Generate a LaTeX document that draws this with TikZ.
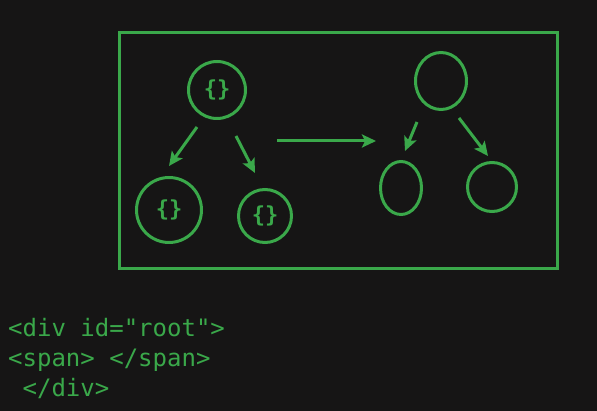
\documentclass[tikz,border=0pt]{standalone}
\usepackage{fontspec}
\setmonofont{DejaVu Sans Mono}
\usetikzlibrary{arrows.meta,shapes.geometric}

\definecolor{bgdark}{RGB}{22,21,21}
\definecolor{codegreen}{RGB}{58,168,74}

\tikzset{
    vnode/.style={circle, draw=codegreen, line width=3pt, inner sep=0pt, text=codegreen, font=\ttfamily\bfseries\fontsize{22}{22}\selectfont},
    rnode/.style={ellipse, draw=codegreen, line width=3pt, inner sep=0pt},
    treearrow/.style={draw=codegreen, line width=3pt, -{Stealth[length=14pt,width=13pt,inset=3pt]}},
    codeline/.style={anchor=base west, inner sep=0pt, text=codegreen, font=\ttfamily\fontsize{24}{24}\selectfont}
}

\begin{document}
\begin{tikzpicture}[x=1pt, y=-1pt]
    % Background
    \fill[bgdark] (0,0) rectangle (597,411);
    \useasboundingbox (0,0) rectangle (597,411);

    % Frame
    \draw[codegreen, line width=3pt] (119,33) rectangle (557,269);

    % Draw nodes for the virtual tree
    \node[vnode, minimum size=57pt] (vroot) at (217,90) {\{\}};
    \node[vnode, minimum size=65pt] (vleft) at (169,210) {\{\}};
    \node[vnode, minimum size=53pt] (vright) at (265,216) {\{\}};

    % Draw nodes for the real tree
    \node[rnode, minimum width=51pt, minimum height=57pt] (rroot) at (441,81) {};
    \node[rnode, minimum width=41pt, minimum height=53pt] (rleft) at (401,188) {};
    \node[rnode, minimum width=49pt, minimum height=49pt] (rright) at (492,187) {};

    % Arrow end points
    \coordinate (va) at (197,127);
    \coordinate (vb) at (169,166);
    \coordinate (vc) at (236,136);
    \coordinate (vd) at (255,173);
    \coordinate (ma) at (277,141);
    \coordinate (mb) at (376,141);
    \coordinate (ra) at (417,122);
    \coordinate (rb) at (405,151);
    \coordinate (rc) at (459,118);
    \coordinate (rd) at (488,156);

    % Draw edges
    \draw[treearrow] (va) -- (vb);
    \draw[treearrow] (vc) -- (vd);
    \draw[treearrow] (ma) -- (mb);
    \draw[treearrow] (ra) -- (rb);
    \draw[treearrow] (rc) -- (rd);

    % Code lines
    \node[codeline] (line1) at (8,337) {<div id="root">};
    \node[codeline] (line2) at (8,367) {<span> </span>};
    \node[codeline] (line3) at (8,396) {\ </div>};
\end{tikzpicture}
\end{document}
